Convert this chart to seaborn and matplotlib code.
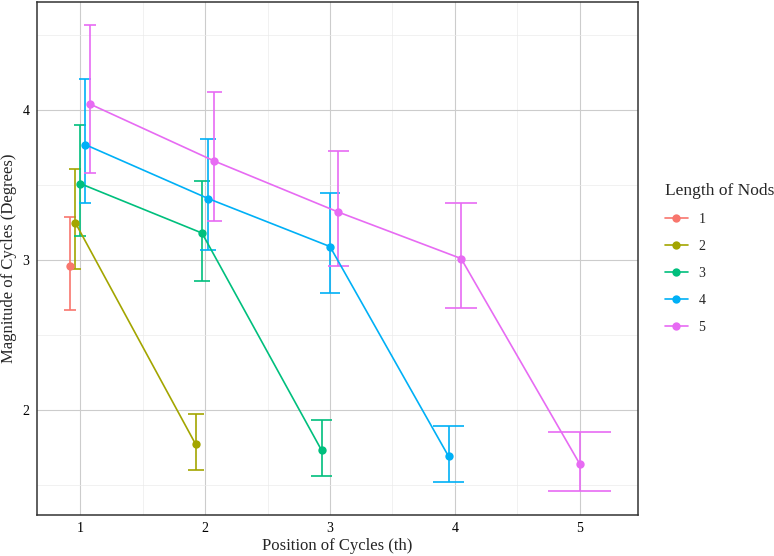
import numpy as np
import pandas as pd
import seaborn as sns
import matplotlib.pyplot as plt

# valores (media, limite inferior, limite superior)
largo_nods = [1, 2, 2, 3, 3, 3, 4, 4, 4, 4, 5, 5, 5, 5, 5]
posicion = [1, 1, 2, 1, 2, 3, 1, 2, 3, 4, 1, 2, 3, 4, 5]
magnitud = [2.96, 3.25, 1.77, 3.51, 3.18, 1.73, 3.77, 3.41, 3.09, 1.69, 4.04, 3.66, 3.32, 3.01, 1.64]
lim_inf = [2.67, 2.94, 1.60, 3.16, 2.86, 1.56, 3.38, 3.07, 2.78, 1.52, 3.58, 3.26, 2.96, 2.68, 1.46]
lim_sup = [3.29, 3.61, 1.97, 3.90, 3.53, 1.93, 4.21, 3.81, 3.45, 1.89, 4.57, 4.12, 3.73, 3.38, 1.85]

colores = ["#F8766D", "#A3A500", "#00BF7D", "#00B0F6", "#E76BF3"]

data = pd.DataFrame({"nods": largo_nods, "pos": posicion, "mag": magnitud,
                     "lo": lim_inf, "hi": lim_sup})
data["nods"] = data["nods"].astype(str)

# dodge tipo ggplot: ancho 0.2 para puntos, 0.5 para las barras de error
DODGE = 0.2
ERR_W = 0.5
n_grupo = data.groupby("pos")["nods"].transform("count")
rango = data.groupby("pos").cumcount()
data["x"] = data["pos"] + (rango - (n_grupo - 1) / 2) * DODGE / n_grupo
data["w"] = ERR_W / n_grupo

sns.set_style("white")
plt.rcParams["font.family"] = ["Liberation Serif", "DejaVu Serif"]

fig = plt.figure(figsize=(7.74, 5.56), dpi=100)
ax = fig.add_axes([0.048, 0.074, 0.776, 0.922])

paleta = dict(zip(["1", "2", "3", "4", "5"], colores))
for nod, d in data.groupby("nods"):
    c = paleta[nod]
    ax.vlines(d["x"], d["lo"], d["hi"], color=c, lw=1.2, zorder=3)
    ax.hlines(d["lo"], d["x"] - d["w"] / 2, d["x"] + d["w"] / 2, color=c, lw=1.2, zorder=3)
    ax.hlines(d["hi"], d["x"] - d["w"] / 2, d["x"] + d["w"] / 2, color=c, lw=1.2, zorder=3)

sns.lineplot(data=data, x="x", y="mag", hue="nods", palette=paleta, ax=ax,
             marker="o", markersize=6, markeredgewidth=0, lw=1.2, zorder=4)

ax.set_xlim(0.655, 5.465)
ax.set_ylim(1.30, 4.72)
ax.set_xticks([1, 2, 3, 4, 5])
ax.set_yticks([2, 3, 4])
ax.set_xticks([1.5, 2.5, 3.5, 4.5], minor=True)
ax.set_yticks([1.5, 2.5, 3.5, 4.5], minor=True)
ax.grid(True, which="major", color="#cccccc", lw=0.8)
ax.grid(True, which="minor", color="#ebebeb", lw=0.5)
ax.set_axisbelow(True)
for s in ax.spines.values():
    s.set_color("#333333")
    s.set_linewidth(1.1)
ax.tick_params(which="major", length=3.5, width=0.8, color="#333333",
               labelsize=10, labelcolor="black", pad=2)
ax.tick_params(which="minor", length=0)
ax.set_xlabel("Position of Cycles (th)", fontsize=12, labelpad=2)
ax.set_ylabel("Magnitude of Cycles (Degrees)", fontsize=12, labelpad=4)

leg = ax.legend(title="Length of Nods", loc="center left", bbox_to_anchor=(1.025, 0.5),
                frameon=False, fontsize=10, title_fontsize=12.5, handlelength=1.6,
                labelspacing=1.0, alignment="left")

plt.savefig("out.png", dpi=100)
